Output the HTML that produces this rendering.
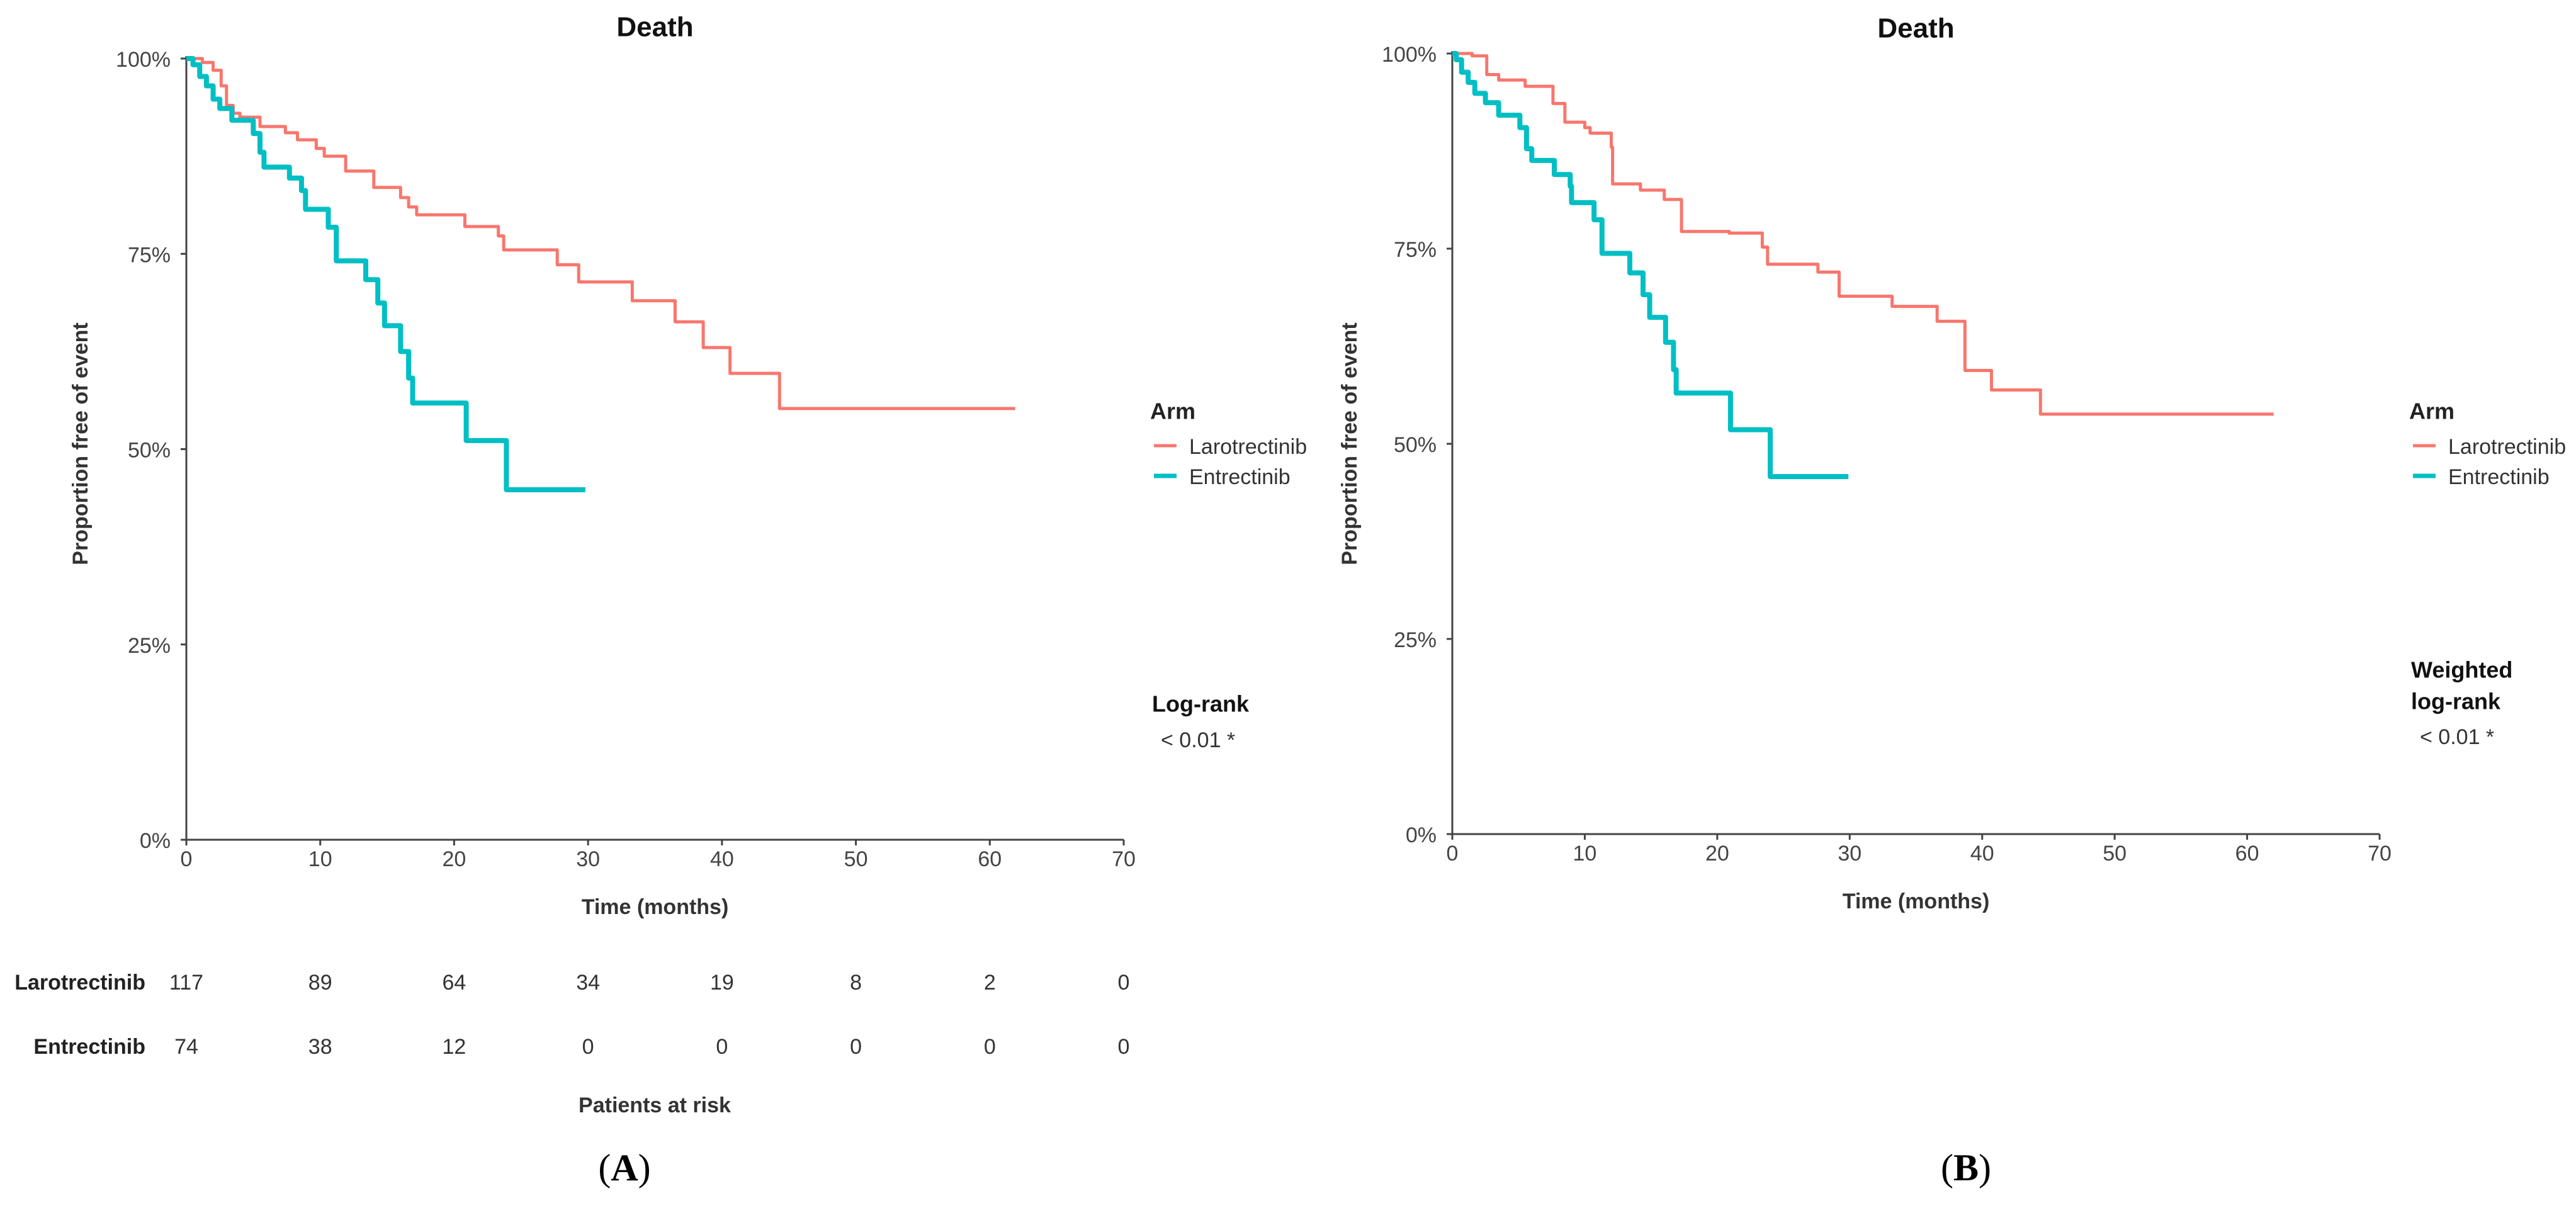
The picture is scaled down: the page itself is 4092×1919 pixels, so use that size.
<!DOCTYPE html>
<html><head><meta charset="utf-8"><style>
html,body{margin:0;padding:0;background:#fff;}
svg{display:block;font-family:"Liberation Sans",Arial,sans-serif;}
</style></head><body>
<svg id="fig" width="4092" height="1919" viewBox="0 0 4092 1919" xmlns="http://www.w3.org/2000/svg"></svg>
<script>
// ---- data ----
const xTicks = [0,10,20,30,40,50,60,70];
const yTicks = [0,25,50,75,100];
const riskTimes = [0,10,20,30,40,50,60,70];
const riskLaro = [117,89,64,34,19,8,2,0];
const riskEntr = [74,38,12,0,0,0,0,0];
// panel A (time, survival %)
const laroA_t = [0,1.2,2,2.6,3,3.5,4,5.5,7.4,8.3,9.7,10.3,11.9,14,16,16.6,17.2,20.8,23.3,23.7,27.7,29.3,33.3,36.5,38.6,40.6,44.3];
const laroA_s = [100,99.5,98.5,96.5,94,93,92.5,91.3,90.5,89.6,88.5,87.5,85.6,83.5,82.2,81,80,78.5,77.3,75.5,73.6,71.4,69,66.3,63,59.7,55.2];
const laroA_end = 61.9;
const entrA_t = [0,0.5,1,1.5,2,2.5,3.4,5,5.5,5.8,7.7,8.6,8.9,10.6,11.2,13.4,14.3,14.8,16,16.6,16.9,20.9,23.9];
const entrA_s = [100,99.2,97.7,96.5,94.8,93.6,92.1,90.4,88,86.1,84.7,83.1,80.7,78.4,74.1,71.7,68.7,65.8,62.5,59.1,55.9,51.1,44.8];
const entrA_end = 29.8;
// panel B
const laroB_t = [0,1.5,2.6,3.5,5.5,7.6,8.5,10,10.4,12,12.1,14.2,16,17.3,20.9,23.4,23.8,27.6,29.2,33.2,36.6,38.7,40.7,44.4];
const laroB_s = [100,99.7,97.3,96.6,95.8,93.6,91.2,90.5,89.8,88,83.3,82.5,81.3,77.2,77,75.2,73,72,68.9,67.6,65.7,59.4,56.9,53.8];
const laroB_end = 62;
const entrB_t = [0,0.3,0.7,1.2,1.7,2.5,3.5,5.1,5.6,6,7.7,8.9,9,10.7,11.3,13.4,14.4,14.9,16.1,16.7,16.9,21,24];
const entrB_s = [100,99.2,97.6,96.3,94.9,93.7,92.1,90.5,87.8,86.3,84.5,83,80.9,78.7,74.4,71.9,69.1,66.2,63,59.5,56.5,51.8,45.8];
const entrB_end = 29.9;

const NS="http://www.w3.org/2000/svg";
const svg=document.getElementById('fig');
function mk(tag,attrs,parent){const e=document.createElementNS(NS,tag);for(const k in attrs)e.setAttribute(k,attrs[k]);(parent||svg).appendChild(e);return e;}
function txt(s,x,y,size,opts,parent){opts=opts||{};const e=mk('text',{x:x,y:y,'font-size':size,fill:opts.fill||'#222','text-anchor':opts.anchor||'middle','dominant-baseline':'central','font-weight':opts.bold?'bold':'normal'},parent);if(opts.transform)e.setAttribute('transform',opts.transform);if(opts.family)e.setAttribute('font-family',opts.family);e.textContent=s;return e;}

function panel(P){
  const g=mk('g',{});
  
  
  const X=t=>P.x0+(P.x1-P.x0)*t/70;
  const Y=s=>P.y0+(P.y100-P.y0)*s/100;
  // title
  const tt=txt('Death',(P.x0+P.x1)/2,P.titleY,44,{bold:true,fill:'#111'},g);
  
  
  // axes
  const ax=mk('path',{d:`M${P.x0} ${Y(100)-4} V${P.y0} H${P.x1}`,stroke:'#444','stroke-width':3,fill:'none'},g);
  
  
  yTicks.forEach(v=>{
    mk('line',{x1:P.x0-9,x2:P.x0,y1:Y(v),y2:Y(v),stroke:'#444','stroke-width':3},g);
    const l=txt(v+'%',P.x0-25,Y(v)+2,34,{anchor:'end',fill:'#444'},g);
    
    
  });
  xTicks.forEach(v=>{
    mk('line',{x1:X(v),x2:X(v),y1:P.y0,y2:P.y0+9,stroke:'#444','stroke-width':3},g);
    const l=txt(String(v),X(v),P.y0+31,34,{fill:'#444'},g);
    
    
  });
  const xt=txt('Time (months)',(P.x0+P.x1)/2,P.y0+107,34,{bold:true,fill:'#333'},g);
  
  
  const ytl=txt('Proportion free of event',P.yTitleX,705,34,{bold:true,fill:'#333',transform:`rotate(-90 ${P.yTitleX} 705)`},g);
  
  
  // curves
  function curve(ts,ss,end,color,w,name){
    let d=`M${X(ts[0])} ${Y(ss[0])}`;
    for(let i=1;i<ts.length;i++){d+=` H${X(ts[i])} V${Y(ss[i])}`;}
    d+=` H${X(end)}`;
    const p=mk('path',{d:d,stroke:color,'stroke-width':w,fill:'none','stroke-linejoin':'round'},g);
    
    
  }
  curve(P.lt,P.ls,P.le,'#F8766D',5,'larotrectinib-curve');
  curve(P.et,P.es,P.ee,'#00BFC4',8,'entrectinib-curve');
  // legend
  const lg=mk('g',{},g);
  
  
  txt('Arm',P.legX,653,36,{anchor:'start',bold:true,fill:'#222'},lg);
  mk('line',{x1:P.legX+6,x2:P.legX+42,y1:708,y2:708,stroke:'#F8766D','stroke-width':5},lg);
  txt('Larotrectinib',P.legX+62,710,34,{anchor:'start',fill:'#333'},lg);
  mk('line',{x1:P.legX+6,x2:P.legX+42,y1:756,y2:756,stroke:'#00BFC4','stroke-width':7},lg);
  txt('Entrectinib',P.legX+62,758,34,{anchor:'start',fill:'#333'},lg);
  // test
  const tg=mk('g',{},g);
  
  
  P.testLines.forEach((s,i)=>txt(s,P.legX+3,P.testY+i*50,36,{anchor:'start',bold:true,fill:'#111'},tg));
  txt('< 0.01 *',P.legX+17,P.pY,34,{anchor:'start',fill:'#333'},tg);
  // panel letter
  const pl=mk('text',{x:P.letterX,y:1855,'font-size':60,'text-anchor':'middle','dominant-baseline':'central','font-family':'"Liberation Serif",serif',fill:'#000'},g);
  pl.innerHTML='(<tspan font-weight="bold">'+P.letter+'</tspan>)';
  
  
  return {g,X};
}

const A=panel({name:'panel-a',x0:296,x1:1785,y0:1334,y100:93,titleY:43,yTitleX:128,
  lt:laroA_t,ls:laroA_s,le:laroA_end,et:entrA_t,es:entrA_s,ee:entrA_end,
  legX:1827,testLines:['Log-rank'],testY:1118,pY:1176,letter:'A',letterX:992});
const B=panel({name:'panel-b',x0:2307,x1:3780,y0:1325,y100:85,titleY:45,yTitleX:2144,
  lt:laroB_t,ls:laroB_s,le:laroB_end,et:entrB_t,es:entrB_s,ee:entrB_end,
  legX:3827,testLines:['Weighted','log-rank'],testY:1064,pY:1171,letter:'B',letterX:3123});

// risk table (panel A)
const rt=mk('g',{});


txt('Larotrectinib',231,1561,34,{anchor:'end',bold:true,fill:'#222'},rt);
txt('Entrectinib',231,1663,34,{anchor:'end',bold:true,fill:'#222'},rt);
riskTimes.forEach((t,i)=>{
  txt(String(riskLaro[i]),A.X(t),1561,34,{fill:'#333'},rt);
  txt(String(riskEntr[i]),A.X(t),1663,34,{fill:'#333'},rt);
});
txt('Patients at risk',1040,1756,34,{bold:true,fill:'#333'},rt);
</script>
</body></html>
